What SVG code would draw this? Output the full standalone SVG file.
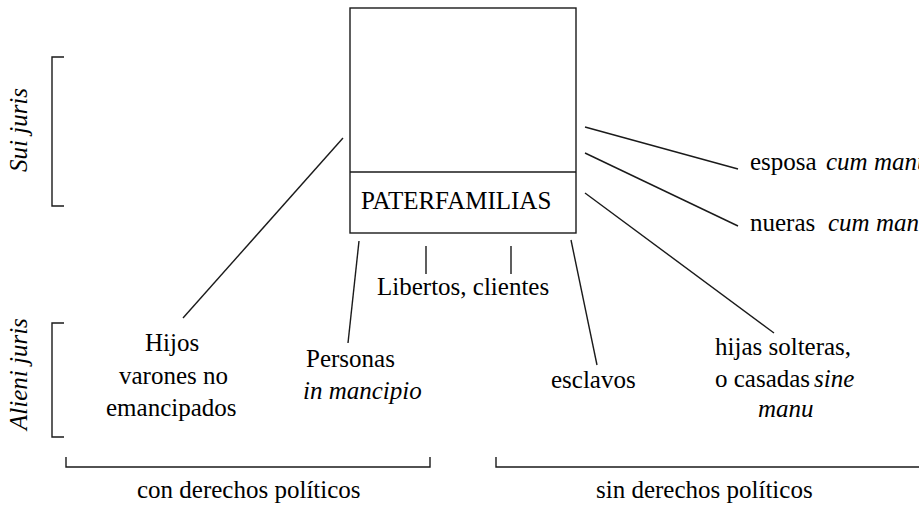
<svg xmlns="http://www.w3.org/2000/svg" width="919" height="505" viewBox="0 0 919 505">
<rect width="919" height="505" fill="#fff"/>
<g stroke="#1a1a1a" stroke-width="1.4" fill="none">
<g id="paterfamilias-box">
<rect x="350" y="8" width="226" height="225"/>
<line x1="350" y1="172" x2="576" y2="172"/>
</g>
<g id="sui-juris-bracket"><path d="M64 57H52V206H64"/></g>
<g id="alieni-juris-bracket"><path d="M64 323H52V437H64"/></g>
<g id="con-derechos-bracket"><path d="M66 457V467H430V457"/></g>
<g id="sin-derechos-bracket"><path d="M496 457V467H919"/></g>
<g id="connectors">
<line x1="343" y1="138" x2="183" y2="318"/>
<line x1="359" y1="241" x2="348" y2="343"/>
<line x1="426" y1="246" x2="426" y2="274"/>
<line x1="511" y1="246" x2="511" y2="274"/>
<line x1="571" y1="240" x2="597" y2="365"/>
<line x1="585" y1="127" x2="738" y2="169"/>
<line x1="585" y1="153" x2="738" y2="226"/>
<line x1="585" y1="193" x2="774" y2="333"/>
</g>
</g>
<text x="361" y="209" style="font-family:'Liberation Serif';font-size:25px">PATERFAMILIAS</text>
<text transform="translate(27,172) rotate(-90)" style="font-family:'Liberation Serif';font-size:25px;font-style:italic">Sui juris</text>
<text transform="translate(27,430) rotate(-90)" style="font-family:'Liberation Serif';font-size:25px;font-style:italic">Alieni juris</text>
<text x="750" y="170" style="font-family:'Liberation Serif';font-size:25px">esposa</text>
<text x="826" y="170" style="font-family:'Liberation Serif';font-size:25px;font-style:italic">cum manu</text>
<text x="750" y="231" style="font-family:'Liberation Serif';font-size:25px">nueras</text>
<text x="828" y="231" style="font-family:'Liberation Serif';font-size:25px;font-style:italic">cum manu</text>
<text x="377" y="295" style="font-family:'Liberation Serif';font-size:25px">Libertos, clientes</text>
<text x="145" y="351" style="font-family:'Liberation Serif';font-size:25px">Hijos</text>
<text x="119" y="384" style="font-family:'Liberation Serif';font-size:25px">varones no</text>
<text x="106" y="416" style="font-family:'Liberation Serif';font-size:25px">emancipados</text>
<text x="306" y="367" style="font-family:'Liberation Serif';font-size:25px">Personas</text>
<text x="303" y="399" style="font-family:'Liberation Serif';font-size:25px;font-style:italic">in mancipio</text>
<text x="551" y="388" style="font-family:'Liberation Serif';font-size:25px">esclavos</text>
<text x="715" y="355" style="font-family:'Liberation Serif';font-size:25px">hijas solteras,</text>
<text x="715" y="387" style="font-family:'Liberation Serif';font-size:25px">o casadas</text>
<text x="814" y="387" style="font-family:'Liberation Serif';font-size:25px;font-style:italic">sine</text>
<text x="758" y="417" style="font-family:'Liberation Serif';font-size:25px;font-style:italic">manu</text>
<text x="137" y="498" style="font-family:'Liberation Serif';font-size:25px">con derechos pol&#237;ticos</text>
<text x="596" y="498" style="font-family:'Liberation Serif';font-size:25px">sin derechos pol&#237;ticos</text>
</svg>
